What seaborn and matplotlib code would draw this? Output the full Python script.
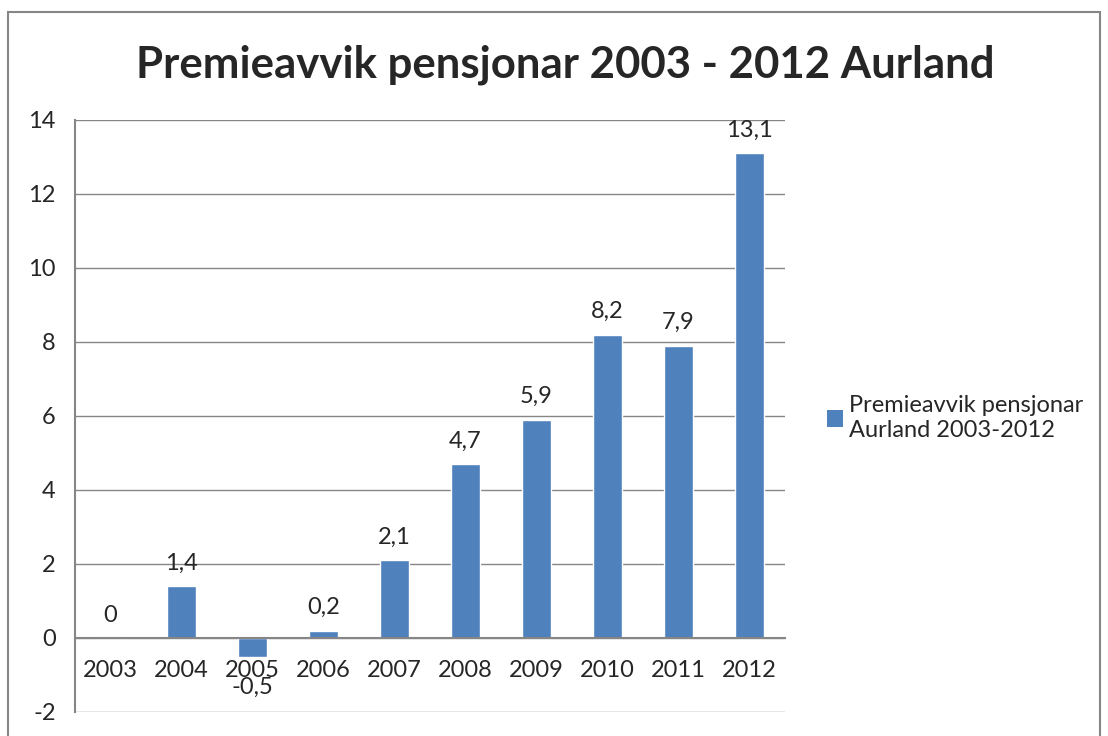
import matplotlib
matplotlib.use("Agg")
import matplotlib.pyplot as plt
import seaborn as sns
import pandas as pd
from matplotlib.patches import Rectangle, Patch
from matplotlib.ticker import FixedLocator

# data
years = ["2003", "2004", "2005", "2006", "2007", "2008", "2009", "2010", "2011", "2012"]
values = [0, 1.4, -0.5, 0.2, 2.1, 4.7, 5.9, 8.2, 7.9, 13.1]
labels = ["0", "1,4", "-0,5", "0,2", "2,1", "4,7", "5,9", "8,2", "7,9", "13,1"]
series_name = "Premieavvik pensjonar\nAurland 2003-2012"

df = pd.DataFrame({"year": years, "value": values})

sns.set_style("white")
plt.rcParams["font.family"] = ["Lato", "DejaVu Sans"]
plt.rcParams["axes.unicode_minus"] = False

bar_color = "#4F81BD"
grid_color = "#868686"
fs = 17

fig = plt.figure(figsize=(11.08, 7.36), dpi=100)
ax = fig.add_axes([75 / 1108, 24 / 736, 710 / 1108, 592 / 736])

sns.barplot(data=df, x="year", y="value", color=bar_color, width=0.42,
            saturation=1, ax=ax, zorder=3)

ax.set_ylim(-2, 14)
ax.set_xlim(-0.5, len(years) - 0.5)
ax.set_yticks(range(-2, 15, 2))
ax.yaxis.grid(True, color=grid_color, linewidth=1, zorder=0)
ax.set_xlabel("")
ax.set_ylabel("")

for s in ["top", "right"]:
    ax.spines[s].set_visible(False)
ax.spines["left"].set_color(grid_color)
ax.spines["left"].set_linewidth(1.5)
ax.spines["bottom"].set_position(("data", 0))
ax.spines["bottom"].set_color(grid_color)
ax.spines["bottom"].set_linewidth(1.5)
ax.spines["bottom"].set_zorder(4)

ax.tick_params(axis="y", length=6, color=grid_color, width=1.2, pad=8, labelsize=fs)
ax.tick_params(axis="x", which="major", length=0, pad=16, labelsize=fs)
ax.xaxis.set_minor_locator(FixedLocator([i + 0.5 for i in range(-1, len(years))]))
ax.tick_params(axis="x", which="minor", length=6, color=grid_color, width=1.2)

# data labels
for i, (v, lab) in enumerate(zip(values, labels)):
    if v < 0:
        ax.annotate(lab, (i, v), xytext=(0, -15), textcoords="offset points",
                    ha="center", va="top", fontsize=fs)
    else:
        ax.annotate(lab, (i, v), xytext=(0, 9), textcoords="offset points",
                    ha="center", va="bottom", fontsize=fs)

fig.suptitle("Premieavvik pensjonar 2003 - 2012 Aurland", x=565 / 1108, y=0.94,
             fontsize=31.5, fontweight="bold")

handle = Patch(facecolor=bar_color, edgecolor="none")
fig.legend([handle], [series_name], loc="center left",
           bbox_to_anchor=(815 / 1108, 1 - 418 / 736), frameon=False,
           fontsize=fs, handlelength=0.7, handleheight=0.7, handletextpad=0.25,
           borderpad=0, labelspacing=0.2)

# outer chart border
fig.patches.append(Rectangle((8 / 1108, -0.01), 1 - 16 / 1108, 1 - 5 / 736,
                             transform=fig.transFigure, fill=False,
                             edgecolor="#868686", linewidth=1.5))

fig.savefig("out.png", dpi=100)
